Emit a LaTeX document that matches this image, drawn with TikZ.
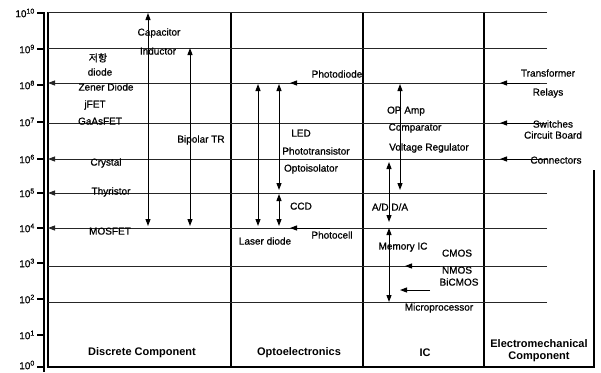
\documentclass[tikz,border=0pt]{standalone}
\usepackage{fontspec}
\setmainfont{Liberation Sans}
\newfontfamily\lblfont{Liberation Sans}[FakeBold=0.7]
\newfontfamily\krfont{Noto Sans CJK KR}[FakeBold=0.7]
\usetikzlibrary{arrows.meta}
\begin{document}
\begin{tikzpicture}[x=1pt,y=-1pt,
  lbl/.style={font=\lblfont\fontsize{10}{12}\selectfont, inner sep=0pt, text height=7.2pt, text depth=0pt},
  cat/.style={font=\bfseries\fontsize{11}{13}\selectfont, inner sep=0pt, align=center},
  ticklbl/.style={font=\lblfont\fontsize{10}{11}\selectfont, anchor=east, inner sep=0pt},
  gridln/.style={line width=0.9pt, black!85},
  border/.style={line width=1.1pt, black},
  tip/.style={-{Triangle[length=7pt,width=5pt]}},
  arr/.style={line width=1pt, tip},
  darr/.style={line width=1pt, {Triangle[length=7pt,width=5pt]}-{Triangle[length=7pt,width=5pt]}},
]
\useasboundingbox (0,0) rectangle (601,372);

% axis
\coordinate (axT) at (44,12);
\coordinate (axB) at (44,372);
\draw[line width=1.4pt] (axT) -- (axB);
\foreach \y/\e in {13/10,49/9,85/8,122/7,159/6,193/5,228/4,263/3,299/2,335/1,367/0}{
  \coordinate (tk\e) at (37,\y);
  \coordinate (tke\e) at (44,\y);
  \draw[line width=1.1pt] (tk\e) -- (tke\e);
}
\foreach \y/\e in {13/10,49/9,85/8,122/7,159/6,193/5,228/4,263/3,299/2,335/1,365/0}{
  \node[ticklbl] (tl\e) at (35,\y) {10\textsuperscript{\e}};
}

% box
\coordinate (bTL) at (48,12);
\coordinate (bBL) at (48,367);
\coordinate (bBR) at (594,367);
\coordinate (bRT) at (594,170);
\draw[border] (bTL) -- (bBL) -- (bBR) -- (bRT);
\foreach \x/\n in {231/a,363/b,484/c}{
  \coordinate (c\n t) at (\x,12);
  \coordinate (c\n b) at (\x,367);
  \draw[border] (c\n t) -- (c\n b);
}

% gridlines
\foreach \y/\n in {12/g10,48/g9,123/g7,266/g3,302/g2}{
  \coordinate (\n L) at (48,\y);
  \coordinate (\n R) at (547,\y);
  \draw[gridln] (\n R) -- (\n L);
}
\foreach \y/\n in {83/g8,159/g6,193/g5,228/g4}{
  \coordinate (\n L) at (48,\y);
  \coordinate (\n R) at (547,\y);
  \draw[gridln, tip] (\n R) -- (\n L);
}

% vertical arrows
\coordinate (v1t) at (148,13);  \coordinate (v1b) at (148,226);
\coordinate (v2t) at (190,48);  \coordinate (v2b) at (190,226);
\coordinate (v3t) at (258,84);  \coordinate (v3b) at (258,226);
\coordinate (v4t) at (279,84);  \coordinate (v4b) at (279,190);
\coordinate (v5t) at (279,194); \coordinate (v5b) at (279,226);
\coordinate (v6t) at (400,84);  \coordinate (v6b) at (400,190);
\coordinate (v7t) at (389,162); \coordinate (v7b) at (389,222);
\coordinate (v8t) at (389,228); \coordinate (v8b) at (389,302);
\foreach \n in {1,...,8}{ \draw[darr] (v\n t) -- (v\n b); }

% horizontal arrows
\coordinate (h1s) at (330,83);  \coordinate (h1e) at (290,83);
\coordinate (h2s) at (330,228); \coordinate (h2e) at (290,228);
\coordinate (h3s) at (540,83);  \coordinate (h3e) at (500,83);
\coordinate (h4s) at (540,123); \coordinate (h4e) at (500,123);
\coordinate (h5s) at (540,159); \coordinate (h5e) at (500,159);
\coordinate (h6s) at (440,266); \coordinate (h6e) at (405,266);
\coordinate (h7s) at (430,290); \coordinate (h7e) at (400,290);
\foreach \n in {1,...,7}{ \draw[arr] (h\n s) -- (h\n e); }

% labels: discrete
\node[lbl] (capacitor) at (159,32) {Capacitor};
\node[lbl] (inductor) at (158,51) {Inductor};
\node[lbl,font=\krfont\fontsize{10}{12}\selectfont] (resist) at (98,58) {저항};
\node[lbl] (diode) at (100,72) {diode};
\node[lbl] (zener) at (106,87) {Zener Diode};
\node[lbl] (jfet) at (95,104) {jFET};
\node[lbl] (gaasfet) at (100,121) {GaAsFET};
\node[lbl] (bipolar) at (201,139) {Bipolar TR};
\node[lbl] (crystal) at (106,162) {Crystal};
\node[lbl] (thyristor) at (111,191) {Thyristor};
\node[lbl] (mosfet) at (110,231) {MOSFET};
% opto
\node[lbl] (photodiode) at (337,74) {Photodiode};
\node[lbl] (led) at (301,133) {LED};
\node[lbl] (phototr) at (316,151) {Phototransistor};
\node[lbl] (optoiso) at (311,168) {Optoisolator};
\node[lbl] (ccd) at (301,206) {CCD};
\node[lbl] (photocell) at (332,235) {Photocell};
\node[lbl] (laser) at (265,241) {Laser diode};
% IC
\node[lbl] (opamp) at (406,110) {OP Amp};
\node[lbl] (comparator) at (415,127) {Comparator};
\node[lbl] (vreg) at (429,147) {Voltage Regulator};
\node[lbl] (adda) at (390,207) {A/D D/A};
\node[lbl] (memory) at (403,246) {Memory IC};
\node[lbl] (cmos) at (457,253) {CMOS};
\node[lbl] (nmos) at (457,270) {NMOS};
\node[lbl] (bicmos) at (459,282) {BiCMOS};
\node[lbl] (micro) at (439,307) {Microprocessor};
% electromechanical
\node[lbl] (transformer) at (548,73) {Transformer};
\node[lbl] (relays) at (548,92) {Relays};
\node[lbl] (switches) at (553,124) {Switches};
\node[lbl] (circuit) at (553,135) {Circuit Board};
\node[lbl] (connectors) at (556,160) {Connectors};

% category titles
\node[cat] (discrete) at (142,353) {Discrete Component};
\node[cat] (opto) at (299,353) {Optoelectronics};
\node[cat] (ic) at (425,353) {IC};
\node[cat] (electro) at (539,351) {Electromechanical\\[-1pt]Component};
\end{tikzpicture}
\end{document}
